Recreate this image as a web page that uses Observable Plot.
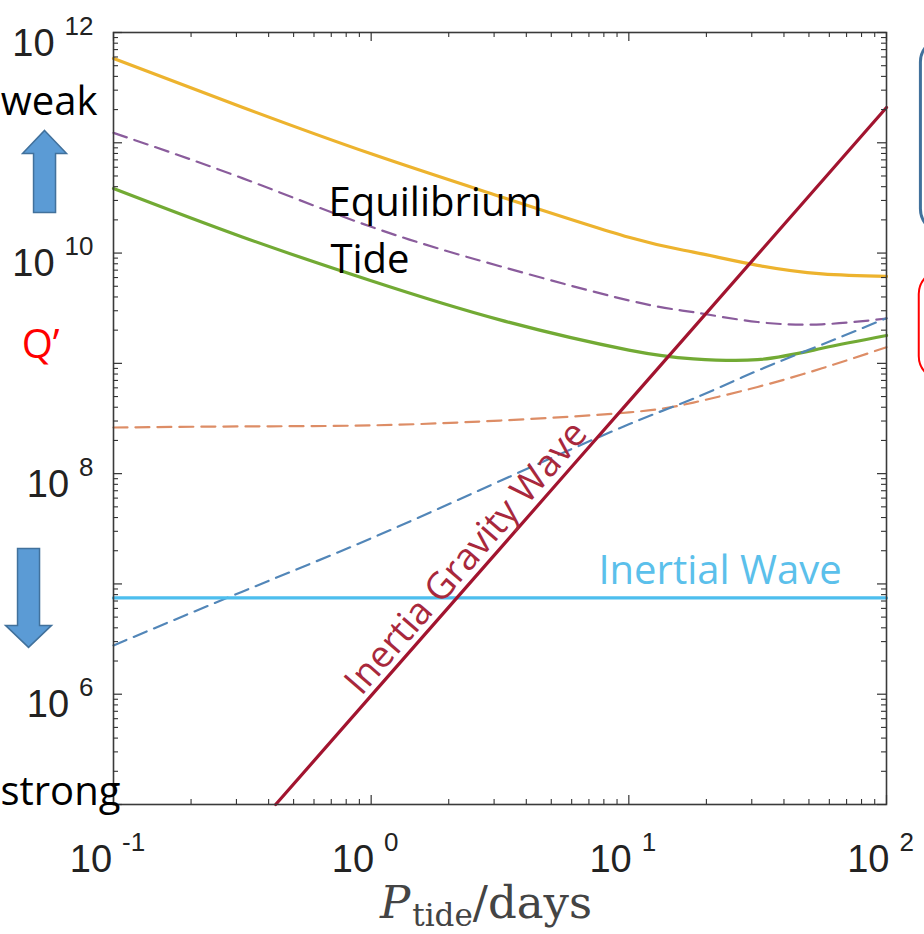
<!DOCTYPE html>
<html>
<head>
<meta charset="utf-8">
<script src="https://cdn.jsdelivr.net/npm/d3@7"></script>
<script src="https://cdn.jsdelivr.net/npm/@observablehq/plot@0.6"></script>
<style>
html, body { margin: 0; padding: 0; background: #fff; }
#chart { width: 924px; height: 934px; overflow: hidden; }
</style>
</head>
<body>
<div id="chart"></div>
<script>
// ---------- data ----------
const periods = [0.1, 0.316, 1, 3.16, 10, 17.8, 31.6, 56.2, 100];          // P_tide (days)
const qYellow = [5.81e11, 2.10e11, 7.94e10, 3.26e10, 1.39e10, 1.02e10, 7.74e9, 6.47e9, 6.14e9];
const qPurple = [1.23e11, 4.78e10, 1.73e10, 7.60e9, 3.72e9, 2.91e9, 2.37e9, 2.26e9, 2.55e9];
const qGreen  = [3.85e10, 1.40e10, 5.61e9, 2.48e9, 1.32e9, 1.10e9, 1.08e9, 1.37e9, 1.79e9];
const qOrange = [2.62e8, 2.68e8, 2.74e8, 3.03e8, 3.59e8, 4.41e8, 6.11e8, 9.02e8, 1.40e9];
const qBlue   = [2.77e6, 8.51e6, 2.59e7, 8.57e7, 2.80e8, 4.78e8, 8.59e8, 1.48e9, 2.57e9];
const periodsInertial = [0.1, 100];
const qInertial = [7.47e6, 7.47e6];
const periodsIGW = [0.426, 1, 10, 100];
const qIGW = [1.0e5, 9.7e5, 4.5e8, 2.09e11];

const xTickValues = [0.1, 1, 10, 100];
const yTickLabelValues = [1e6, 1e8, 1e10, 1e12];
const yDecades = [1e5, 1e6, 1e7, 1e8, 1e9, 1e10, 1e11, 1e12];

const annotations = [
  {text: "weak", P: 0.0365, Q: 1.77e11, color: "#000000"},
  {text: "Q’", P: 0.044, Q: 1.13e9, color: "#FF0000"},
  {text: "strong", P: 0.0364, Q: 1.0e5, color: "#000000"},
  {text: "Equilibrium", P: 0.683, Q: 2.19e10, color: "#000000"},
  {text: "Tide", P: 0.695, Q: 6.53e9, color: "#000000"},
  {text: "Inertial Wave", P: 7.62, Q: 9.9e6, color: "#5BC0EB"}
];
const igwLabel = [{text: "Inertia Gravity Wave", P: 2.67, Q: 1.32e7, color: "#A8283C"}];
const arrowsUp = [{P: 0.054, Q: 5.5e10}];
const arrowsDown = [{P: 0.0468, Q: 7.47e6}];
const boxes = [
  {P1: 136, P2: 1000, Q1: 1.51e10, Q2: 8.83e11, color: "#41719C", w: 3},
  {P1: 134, P2: 1000, Q1: 7.0e8, Q2: 6.95e9, color: "#FF0000", w: 2}
];

// ---------- styles ----------
const series = [
  {P: periods, Q: qYellow, color: "#EDB32E", width: 3.2, dash: null},
  {P: periods, Q: qPurple, color: "#8A5C9C", width: 2.2, dash: "14,8"},
  {P: periods, Q: qGreen,  color: "#72AA34", width: 3.2, dash: null},
  {P: periods, Q: qOrange, color: "#DD8D66", width: 2.2, dash: "14,8"},
  {P: periods, Q: qBlue,   color: "#5286B8", width: 2.2, dash: "14,8"},
  {P: periodsInertial, Q: qInertial, color: "#4DBEEE", width: 3.2, dash: null},
  {P: periodsIGW, Q: qIGW, color: "#A2142F", width: 3.2, dash: null}
];

const W = 924, H = 934, ML = 113, MR = 38, MT = 32, MB = 130;
const FW = W - ML - MR, FH = H - MT - MB;

const xMinor = [];
for (const d of [0.1, 1, 10]) for (let k = 2; k <= 9; k++) xMinor.push(+(d * k).toPrecision(3));
const yMinor = [];
for (const d of yDecades.slice(0, -1)) for (let k = 2; k <= 9; k++) yMinor.push(+(d * k).toPrecision(3));

const upArrow = {draw(ctx) {
  ctx.moveTo(0, -41); ctx.lineTo(22, -18); ctx.lineTo(11, -18); ctx.lineTo(11, 41);
  ctx.lineTo(-11, 41); ctx.lineTo(-11, -18); ctx.lineTo(-22, -18); ctx.closePath();
}};
const downArrow = {draw(ctx) {
  ctx.moveTo(0, 49.5); ctx.lineTo(23, 27.5); ctx.lineTo(11, 27.5); ctx.lineTo(11, -49.5);
  ctx.lineTo(-11, -49.5); ctx.lineTo(-11, 27.5); ctx.lineTo(-23, 27.5); ctx.closePath();
}};

const tickStroke = "#333";
const lineMarks = series.map(s => Plot.line(s.P.map((p, i) => ({P: p, Q: s.Q[i]})), {
  x: "P", y: "Q", stroke: s.color, strokeWidth: s.width,
  strokeDasharray: s.dash, curve: "natural"
}));

const svg = Plot.plot({
  width: W, height: H,
  marginTop: MT, marginRight: MR, marginBottom: MB, marginLeft: ML,
  x: {type: "log", domain: [0.1, 100]},
  y: {type: "log", domain: [1e5, 1e12]},
  color: {type: "identity"},
  style: {background: "#fff", fontFamily: "Liberation Sans, Arial, sans-serif"},
  marks: [
    Plot.rect(boxes, {x1: "P1", x2: "P2", y1: "Q1", y2: "Q2", stroke: "color", strokeWidth: d => d.w, fill: "none", rx: 24}),
    ...lineMarks,
    Plot.frame({stroke: "#3a3a3a", strokeWidth: 1.6}),
    // inward ticks
    Plot.tickX(xTickValues, {x: d => d, insetTop: FH - 9, stroke: tickStroke, strokeWidth: 1.2}),
    Plot.tickX(xTickValues, {x: d => d, insetBottom: FH - 9, stroke: tickStroke, strokeWidth: 1.2}),
    Plot.tickX(xMinor, {x: d => d, insetTop: FH - 5, stroke: tickStroke, strokeWidth: 1.1}),
    Plot.tickX(xMinor, {x: d => d, insetBottom: FH - 5, stroke: tickStroke, strokeWidth: 1.1}),
    Plot.tickY(yDecades, {y: d => d, insetRight: FW - 9, stroke: tickStroke, strokeWidth: 1.2}),
    Plot.tickY(yDecades, {y: d => d, insetLeft: FW - 9, stroke: tickStroke, strokeWidth: 1.2}),
    Plot.tickY(yMinor, {y: d => d, insetRight: FW - 5, stroke: tickStroke, strokeWidth: 1.1}),
    Plot.tickY(yMinor, {y: d => d, insetLeft: FW - 5, stroke: tickStroke, strokeWidth: 1.1}),
    // axes labels
    Plot.axisX({anchor: "bottom", ticks: xTickValues, tickSize: 0, tickPadding: 0,
      tickFormat: d => `10^${Math.round(Math.log10(d))}`, fontSize: 38, fill: "#222",
      dx: -6, dy: 41, label: null}),
    Plot.axisY({anchor: "left", ticks: yTickLabelValues, tickSize: 0, tickPadding: 20,
      tickFormat: d => `10^${Math.round(Math.log10(d))}`, fontSize: 38, fill: "#222",
      dy: 11, label: null}),
    // annotations
    Plot.dot(arrowsUp, {x: "P", y: "Q", symbol: upArrow, r: 10, fill: "#5B9BD5", stroke: "#41719C", strokeWidth: 1.5}),
    Plot.dot(arrowsDown, {x: "P", y: "Q", symbol: downArrow, r: 10, fill: "#5B9BD5", stroke: "#41719C", strokeWidth: 1.5}),
    Plot.text(annotations, {x: "P", y: "Q", text: "text", fill: "color", textAnchor: "start",
      lineAnchor: "bottom", fontSize: 40, fontFamily: "Open Sans"}),
    Plot.text(igwLabel, {x: "P", y: "Q", text: "text", fill: "color", textAnchor: "middle",
      lineAnchor: "bottom", rotate: -49, dx: -6, dy: -5, fontSize: 37, fontFamily: "Open Sans"})
  ]
});

// superscript tick labels
d3.select(svg).selectAll("text").each(function() {
  const m = /^10\^(-?\d+)$/.exec(this.textContent);
  if (!m) return;
  const t = d3.select(this);
  t.text(null);
  t.append("tspan").text("10");
  t.append("tspan").attr("dx", 10).attr("dy", -21).attr("font-size", 26).text(m[1]);
});

// x-axis title: P_tide / days
const lab = d3.select(svg).append("text")
  .attr("x", 486).attr("y", 918).attr("text-anchor", "middle")
  .attr("font-family", "'DejaVu Serif', 'Liberation Serif', serif")
  .attr("font-size", 45).attr("fill", "#444");
lab.append("tspan").attr("font-style", "italic").text("P");
lab.append("tspan").attr("font-size", 31).attr("dy", 8).attr("dx", 2).text("tide");
lab.append("tspan").attr("dy", -8).text("/days");

document.getElementById("chart").appendChild(svg);
</script>
</body>
</html>
